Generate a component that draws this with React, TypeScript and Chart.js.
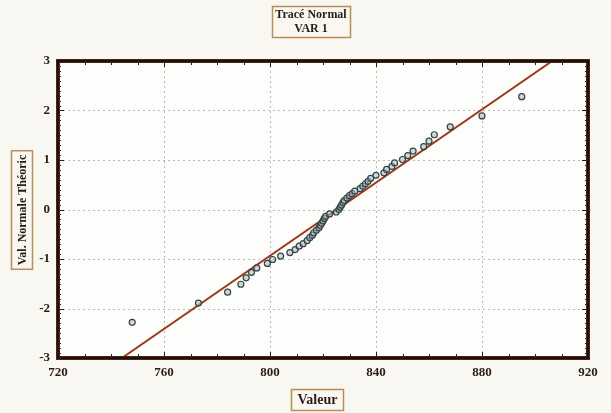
import React, { useEffect, useRef } from "react";
import { Chart, registerables } from "chart.js";

Chart.register(...registerables);

const valeurs = [
  748, 773, 784, 789, 791, 793, 795, 799, 801, 804, 807.5, 809.5, 811, 812.5, 814,
  815, 816, 816.5, 817.5, 818.5, 819, 819.5, 820, 820.5, 821, 822.5, 825, 826, 826.5,
  827, 827.5, 828, 829, 830, 831, 832, 834, 835, 836, 837, 838, 840, 843, 844,
  846, 847, 850, 852, 854, 858, 860, 862, 868, 880, 895,
];
const normales = [
  -2.28, -1.89, -1.67, -1.51, -1.38, -1.27, -1.18, -1.09, -1.01, -0.94, -0.87,
  -0.81, -0.74, -0.69, -0.63, -0.57, -0.52, -0.47, -0.42, -0.37, -0.32, -0.28,
  -0.23, -0.18, -0.14, -0.09, -0.05, 0, 0.05, 0.09, 0.14, 0.18, 0.23, 0.28,
  0.32, 0.37, 0.42, 0.47, 0.52, 0.57, 0.63, 0.69, 0.74, 0.81, 0.87, 0.94, 1.01,
  1.09, 1.18, 1.27, 1.38, 1.51, 1.67, 1.89, 2.28,
];
// Reference line endpoints
const ligneX = [744.1, 906.5];
const ligneY = [-3, 3];

const xTicks = [720, 760, 800, 840, 880, 920];
const yTicks = [-3, -2, -1, 0, 1, 2, 3];
const titreLignes = ["Tracé Normal", "VAR 1"];
const titreX = "Valeur";
const titreY = "Val. Normale Théoric";

const FONT = '"Liberation Serif", "Times New Roman", serif';
const INK = "#2a1c14";
const BOXC = "#b98d55";

const decor = {
  id: "decor",
  beforeDraw(chart: any) {
    const { ctx, chartArea: a } = chart;
    ctx.save();
    ctx.fillStyle = "#f8f7f2";
    ctx.fillRect(0, 0, chart.width, chart.height);
    ctx.fillStyle = "#fdfdfc";
    ctx.fillRect(a.left, a.top, a.right - a.left, a.bottom - a.top);
    ctx.restore();
  },
  beforeDatasetsDraw(chart: any) {
    const { ctx, chartArea: a, scales } = chart;
    const xs = scales.x, ys = scales.y;
    ctx.save();
    ctx.strokeStyle = "#b9b9b9";
    ctx.lineWidth = 1;
    ctx.setLineDash([2, 3]);
    xTicks.slice(1, -1).forEach((v) => {
      const p = Math.round(xs.getPixelForValue(v)) + 0.5;
      ctx.beginPath();
      ctx.moveTo(p, a.top);
      ctx.lineTo(p, a.bottom);
      ctx.stroke();
    });
    yTicks.slice(1, -1).forEach((v) => {
      const p = Math.round(ys.getPixelForValue(v)) + 0.5;
      ctx.beginPath();
      ctx.moveTo(a.left, p);
      ctx.lineTo(a.right, p);
      ctx.stroke();
    });
    ctx.restore();
  },
  afterDatasetsDraw(chart: any) {
    const { ctx, chartArea: a, scales } = chart;
    const xs = scales.x, ys = scales.y;
    ctx.save();
    // inward ticks
    ctx.strokeStyle = INK;
    ctx.lineWidth = 1;
    for (let v = 730; v < 920; v += 10) {
      const p = Math.round(xs.getPixelForValue(v)) + 0.5;
      const L = v % 40 === 0 ? 6 : 4;
      ctx.beginPath();
      ctx.moveTo(p, a.bottom);
      ctx.lineTo(p, a.bottom - L);
      ctx.moveTo(p, a.top);
      ctx.lineTo(p, a.top + L);
      ctx.stroke();
    }
    for (let i = -29; i < 30; i++) {
      const v = i / 10;
      const p = Math.round(ys.getPixelForValue(v)) + 0.5;
      const L = i % 10 === 0 ? 6 : 3;
      ctx.beginPath();
      ctx.moveTo(a.left, p);
      ctx.lineTo(a.left + L, p);
      ctx.moveTo(a.right, p);
      ctx.lineTo(a.right - L, p);
      ctx.stroke();
    }
    // frame
    ctx.strokeStyle = "#5a2a18";
    ctx.lineWidth = 4;
    ctx.strokeRect(a.left, a.top, a.right - a.left, a.bottom - a.top);
    ctx.strokeStyle = "#1c120c";
    ctx.lineWidth = 2.5;
    ctx.strokeRect(a.left, a.top, a.right - a.left, a.bottom - a.top);

    // title box
    ctx.fillStyle = INK;
    ctx.textAlign = "center";
    ctx.textBaseline = "middle";
    ctx.font = "bold 12px " + FONT;
    const tcx = 311;
    ctx.strokeStyle = BOXC;
    ctx.lineWidth = 1.5;
    ctx.strokeRect(272.5, 6.5, 78, 31);
    ctx.fillText(titreLignes[0], tcx, 15);
    ctx.fillText(titreLignes[1], tcx, 29);

    // x title box
    ctx.font = "bold 14px " + FONT;
    ctx.strokeRect(291.5, 389.5, 52, 21);
    ctx.fillText(titreX, 317.5, 400.5);

    // y title box
    ctx.save();
    ctx.translate(22, 210);
    ctx.rotate(-Math.PI / 2);
    ctx.font = "bold 12px " + FONT;
    const w = ctx.measureText(titreY).width + 8;
    ctx.strokeRect(-w / 2, -10.5, w, 21);
    ctx.fillText(titreY, 0, 0.5);
    ctx.restore();
    ctx.restore();
  },
};

export default function App() {
  const ref = useRef<HTMLCanvasElement>(null);
  useEffect(() => {
    const prevMargin = document.body.style.margin;
    document.body.style.margin = "0";
    const chart = new Chart(ref.current!, {
      type: "scatter",
      data: {
        datasets: [
          {
            label: "points",
            data: valeurs.map((v, i) => ({ x: v, y: normales[i] })),
            pointRadius: 3,
            pointBorderWidth: 1.2,
            pointBorderColor: "#33434a",
            pointBackgroundColor: "rgba(170,185,180,0.55)",
            showLine: false,
          },
          {
            label: "ligne",
            data: ligneX.map((v, i) => ({ x: v, y: ligneY[i] })),
            showLine: true,
            pointRadius: 0,
            borderColor: "#9c3a18",
            borderWidth: 2,
          },
        ],
      },
      options: {
        responsive: false,
        animation: false,
        devicePixelRatio: 1,
        layout: { padding: { left: 0, right: 23, top: 61, bottom: 0 } },
        plugins: { legend: { display: false }, tooltip: { enabled: false }, title: { display: false } },
        scales: {
          x: {
            type: "linear",
            min: 720,
            max: 920,
            afterBuildTicks: (s: any) => {
              s.ticks = xTicks.map((v) => ({ value: v }));
            },
            afterFit: (s: any) => {
              s.height = 55;
            },
            ticks: {
              color: INK,
              font: { family: FONT, size: 13, weight: "bold" },
              padding: 7,
              maxRotation: 0,
              autoSkip: false,
            },
            grid: { display: false, drawTicks: false },
            border: { display: false },
          },
          y: {
            type: "linear",
            min: -3,
            max: 3,
            afterBuildTicks: (s: any) => {
              s.ticks = yTicks.map((v) => ({ value: v }));
            },
            afterFit: (s: any) => {
              s.width = 58;
            },
            ticks: {
              color: INK,
              font: { family: FONT, size: 13, weight: "bold" },
              padding: 8,
              autoSkip: false,
            },
            grid: { display: false, drawTicks: false },
            border: { display: false },
          },
        },
      },
      plugins: [decor],
    });
    return () => {
      chart.destroy();
      document.body.style.margin = prevMargin;
    };
  }, []);
  return (
    <div style={{ position: "fixed", left: 0, top: 0, width: 611, height: 413 }}>
      <canvas ref={ref} width={611} height={413} style={{ width: 611, height: 413, display: "block" }} />
    </div>
  );
}
